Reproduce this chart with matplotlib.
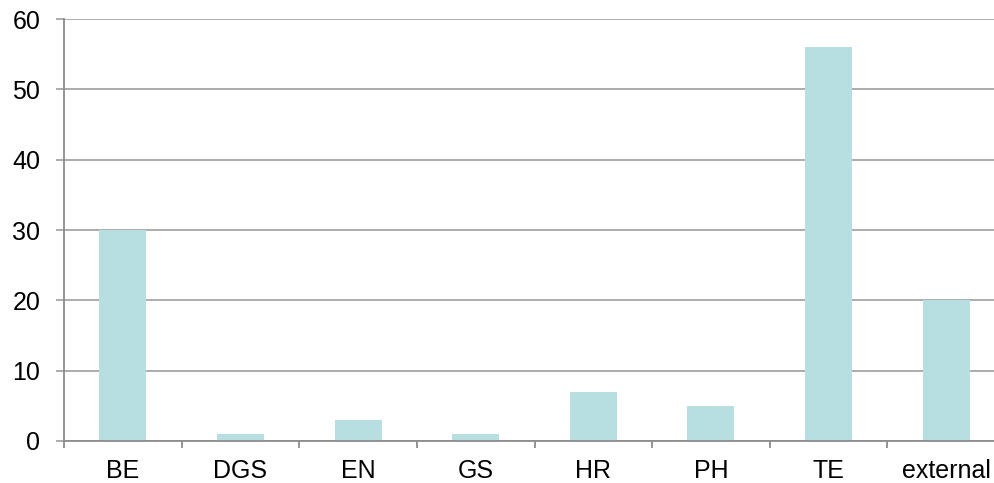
import matplotlib
matplotlib.use("Agg")
import matplotlib.pyplot as plt
import numpy as np

categories = ["BE", "DGS", "EN", "GS", "HR", "PH", "TE", "external"]
values = [30, 1, 3, 1, 7, 5, 56, 20]
y_ticks = [0, 10, 20, 30, 40, 50, 60]

BAR_COLOR = "#b7dfe2"
GRID_COLOR = "#a6a6a6"
AXIS_COLOR = "#8c8c8c"

plt.rcParams["font.family"] = ["Liberation Sans", "DejaVu Sans"]

fig = plt.figure(figsize=(9.95, 4.83), dpi=100)
# plot area runs slightly past the right edge of the picture, as in the reference
ax = fig.add_axes([64 / 995, 42 / 483, 941 / 995, 422 / 483])

x = np.arange(len(categories))
ax.bar(x, values, width=0.4, color=BAR_COLOR, zorder=3)

ax.set_xlim(-0.5, len(categories) - 0.5)
ax.set_ylim(0, 60)
ax.set_yticks(y_ticks)
ax.set_yticklabels([str(v) for v in y_ticks])
ax.yaxis.grid(True, color=GRID_COLOR, linewidth=1.3, zorder=0)

ax.set_xticks(x)
ax.set_xticklabels(categories)
ax.set_xticks(np.arange(-0.5, len(categories), 1.0), minor=True)

for side in ("top", "right"):
    ax.spines[side].set_visible(False)
for side in ("left", "bottom"):
    ax.spines[side].set_color(AXIS_COLOR)
    ax.spines[side].set_linewidth(1.3)
    ax.spines[side].set_zorder(4)

ax.tick_params(axis="y", length=6, width=1.3, color=GRID_COLOR, pad=11, labelsize=18)
ax.tick_params(axis="x", which="major", length=0, pad=13, labelsize=18)
ax.tick_params(axis="x", which="minor", length=5, width=1.3, color=AXIS_COLOR)

fig.savefig("out.png", dpi=100)
